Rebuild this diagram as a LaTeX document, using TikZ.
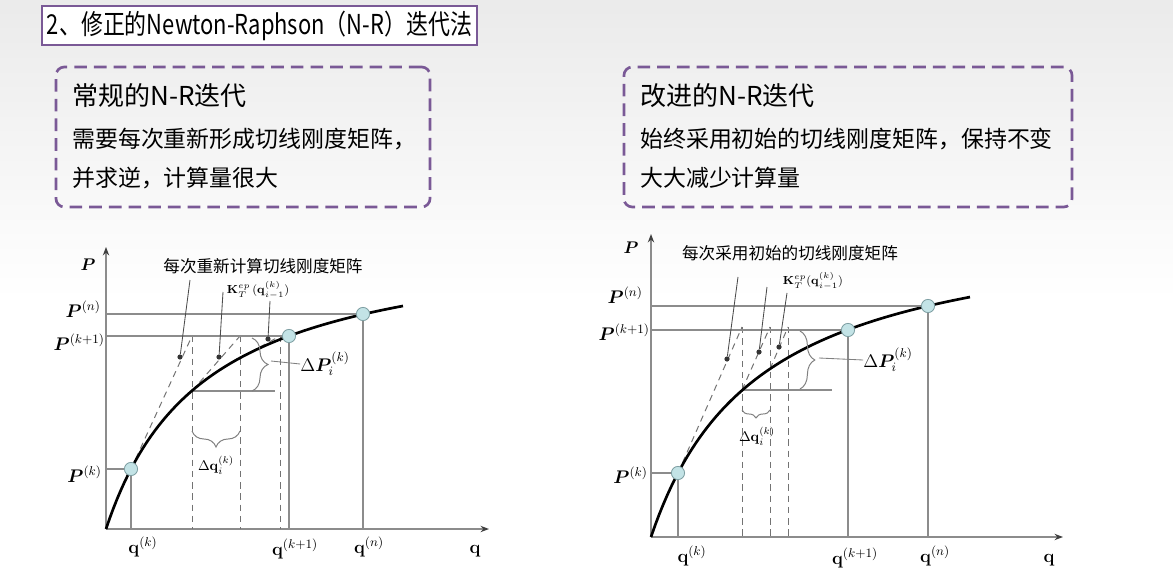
\RequirePackage{fix-cm}
\documentclass[tikz,border=0pt]{standalone}
\usepackage[no-math]{fontspec}
\setmainfont{Noto Sans CJK SC}
\usepackage{amsmath,bm}
\usetikzlibrary{positioning, arrows.meta, decorations.pathreplacing}

\definecolor{slidepurple}{HTML}{7A5996}
\definecolor{ptfill}{HTML}{C3E3E6}
\definecolor{ptline}{HTML}{7E9FA3}
\definecolor{refgray}{HTML}{8C8C8C}

\begin{document}
\begin{tikzpicture}[
		x=0.025cm, y=-0.025cm,
		>=Stealth,
		titlebox/.style={draw=slidepurple, line width=1.6pt, fill=white, minimum width=10.875cm, minimum height=0.975cm, inner sep=0pt},
		titletext/.style={font=\fontsize{19.5}{22}\selectfont, xscale=0.8, inner sep=0pt},
		notebox/.style={draw=slidepurple, line width=1.9pt, dash pattern=on 9pt off 5pt, rounded corners=6pt, minimum height=3.5cm, inner sep=0pt},
		headtext/.style={font=\fontsize{18.5}{22}\selectfont, anchor=west, inner sep=0pt},
		bodytext/.style={font=\fontsize{16.3}{19}\selectfont, anchor=west, inner sep=0pt},
		axisline/.style={draw=refgray, line width=1.1pt, -{Stealth[length=6pt, width=4.5pt, color=black!75]}},
		refline/.style={draw=refgray, line width=0.8pt},
		guide/.style={draw=black!55, line width=0.7pt, dash pattern=on 4.5pt off 3.5pt},
		loadcurve/.style={draw=black, line width=1.9pt},
		ptmark/.style={circle, draw=ptline, fill=ptfill, line width=0.6pt, minimum size=0.33cm, inner sep=0pt},
		pdot/.style={circle, fill=black!80, minimum size=0.13cm, inner sep=0pt},
		leader/.style={draw=black!70, line width=0.6pt},
		curly/.style={draw=gray, line width=0.7pt, decorate, decoration={brace, amplitude=#1}},
		axlabel/.style={font=\fontsize{13}{15}\selectfont, inner sep=0pt},
		notetext/.style={font=\fontsize{11.8}{14}\selectfont, inner sep=0pt},
		klabel/.style={font=\fontsize{8.3}{10}\selectfont, inner sep=0pt},
		dqlabel/.style={font=\fontsize{10}{12}\selectfont, inner sep=0pt}
	]
	
	% --- BACKGROUND ---
	\useasboundingbox (0,0) rectangle (1173,578);
	\shade[top color=gray!16, bottom color=white] (0,0) rectangle (1173,300);
	\fill[white] (0,300) rectangle (1173,578);
	
	% --- TITLE ---
	\node[titlebox] (title) at (259.5,25.5) {};
	\node[titletext] at (title.center) {2、修正的Newton-Raphson（N-R）迭代法};
	
	% --- NOTE BOXES ---
	\node[notebox, minimum width=9.35cm] (regbox) at (243,137) {};
	\node[headtext] (reghead) at (72,96) {常规的N-R迭代};
	\node[bodytext] (regline1) at (72,139) {需要每次重新形成切线刚度矩阵，};
	\node[bodytext] (regline2) at (72,178) {并求逆，计算量很大};
	
	\node[notebox, minimum width=11.2cm] (modbox) at (848,137) {};
	\node[headtext] (modhead) at (640,96) {改进的N-R迭代};
	\node[bodytext] (modline1) at (640,139) {始终采用初始的切线刚度矩阵，保持不变};
	\node[bodytext] (modline2) at (640,178) {大大减少计算量};
	
	% --- LEFT CHART: STANDARD N-R ---
	\coordinate (lo) at (106,529);
	\coordinate (lx) at (489,529);
	\coordinate (ly) at (106,247);
	\coordinate (lk) at (131,469);
	\coordinate (lc1) at (192,391);
	\coordinate (lc2) at (240,358);
	\coordinate (lk1) at (289,336);
	\coordinate (ln) at (363,314);
	\coordinate (lt1) at (192,336);
	\coordinate (lt2) at (240,336);
	\coordinate (lt3) at (280,336);
	\coordinate (lh) at (275,391);
	
	\draw[axisline] (lo) -- (lx);
	\draw[axisline] (lo) -- (ly);
	
	% tangents and iteration steps
	\draw[guide] (lk) -- (lt1);
	\draw[guide] (lt1) -- (lt1 |- lo);
	\draw[guide] (lc1) -- (lt2);
	\draw[guide] (lt2) -- (lt2 |- lo);
	\draw[guide] (lc2) -- (lt3);
	\draw[guide] (lt3) -- (lt3 |- lo);
	\draw[refline] (lc1) -- (lh);
	
	\draw[loadcurve] plot[domain=0:297, samples=80] ({106+\x}, {529-297.3/(98.9+\x)*\x});
	
	\node[ptmark] (LPk) at (lk) {};
	\node[ptmark] (LPk1) at (lk1) {};
	\node[ptmark] (LPn) at (ln) {};
	
	\draw[refline] (lo |- LPn) -- (LPn);
	\draw[refline] (LPn) -- (LPn |- lo);
	\draw[refline] (lo |- LPk1) -- (LPk1);
	\draw[refline] (LPk1) -- (LPk1 |- lo);
	\draw[refline] (lo |- LPk) -- (LPk);
	\draw[refline] (LPk) -- (LPk |- lo);
	
	% tangent stiffness call-outs
	\node[pdot] (ld1) at (180,357) {};
	\node[pdot] (ld2) at (219,357) {};
	\node[pdot] (ld3) at (268,339) {};
	\coordinate (le1) at (190,280);
	\coordinate (le2) at (223,292);
	\coordinate (le3) at (270,301);
	\draw[leader] (ld1) -- (le1);
	\draw[leader] (ld2) -- (le2);
	\draw[leader] (ld3) -- (le3);
	\node[notetext] (lnote) at (263,266) {每次重新计算切线刚度矩阵};
	\node[klabel] (lklab) at (258,290) {$\mathbf{K}_T^{ep}\,(\mathbf{q}_{i-1}^{(k)})$};
	
	% increments
	\draw[curly=0.4cm] (252,338) -- (252,391);
	\coordinate (lcusp) at (271,361);
	\node[axlabel] (ldP) at (325,364) {$\Delta\bm{P}_i^{(k)}$};
	\draw[leader, draw=gray] (lcusp) -- (ldP.west);
	\draw[curly=0.4cm] (240,431) -- (192,431);
	\node[dqlabel] (ldq) at (216,465) {$\Delta\mathbf{q}_i^{(k)}$};
	
	% axis labels
	\node[axlabel, font=\fontsize{12}{14}\selectfont, anchor=base] (lP) at (88,270) {$\bm{P}$};
	\node[axlabel, anchor=base east] (lPn) at (101,317) {$\bm{P}^{(n)}$};
	\node[axlabel, anchor=base east] (lPk1) at (105,350) {$\bm{P}^{(k+1)}$};
	\node[axlabel, anchor=base east] (lPk) at (102,482) {$\bm{P}^{(k)}$};
	\node[axlabel, anchor=base] (lqk) at (143,553) {$\mathbf{q}^{(k)}$};
	\node[axlabel, anchor=base] (lqk1) at (295,555) {$\mathbf{q}^{(k+1)}$};
	\node[axlabel, anchor=base] (lqn) at (369,553) {$\mathbf{q}^{(n)}$};
	\node[axlabel, anchor=base] (lq) at (475,553) {$\mathbf{q}$};
	
	% --- RIGHT CHART: MODIFIED N-R ---
	\coordinate (ro) at (651,537);
	\coordinate (rx) at (1063,537);
	\coordinate (ry) at (651,234);
	\coordinate (rk) at (678,473);
	\coordinate (rc1) at (742,390);
	\coordinate (rc2) at (770,369);
	\coordinate (rk1) at (848,330);
	\coordinate (rn) at (928,306);
	\coordinate (rt1) at (742,327);
	\coordinate (rt2) at (770,327);
	\coordinate (rt3) at (788,327);
	\coordinate (rh) at (832,390);
	
	\draw[axisline] (ro) -- (rx);
	\draw[axisline] (ro) -- (ry);
	
	% parallel tangents (initial stiffness)
	\draw[guide] (rk) -- (rt1);
	\draw[guide] (rt1) -- (rt1 |- ro);
	\draw[guide] (rc1) -- (rt2);
	\draw[guide] (rt2) -- (rt2 |- ro);
	\draw[guide] (rc2) -- (rt3);
	\draw[guide] (rt3) -- (rt3 |- ro);
	\draw[refline] (rc1) -- (rh);
	
	\draw[loadcurve] plot[domain=0:319, samples=80] ({651+\x}, {537-321.7/(108.7+\x)*\x});
	
	\node[ptmark] (RPk) at (rk) {};
	\node[ptmark] (RPk1) at (rk1) {};
	\node[ptmark] (RPn) at (rn) {};
	
	\draw[refline] (ro |- RPn) -- (RPn);
	\draw[refline] (RPn) -- (RPn |- ro);
	\draw[refline] (ro |- RPk1) -- (RPk1);
	\draw[refline] (RPk1) -- (RPk1 |- ro);
	\draw[refline] (ro |- RPk) -- (RPk);
	\draw[refline] (RPk) -- (RPk |- ro);
	
	% tangent stiffness call-outs
	\node[pdot] (rd1) at (727,359) {};
	\node[pdot] (rd2) at (759,352) {};
	\node[pdot] (rd3) at (779,347) {};
	\coordinate (re1) at (738,277);
	\coordinate (re2) at (767,287);
	\coordinate (re3) at (787,293);
	\draw[leader] (rd1) -- (re1);
	\draw[leader] (rd2) -- (re2);
	\draw[leader] (rd3) -- (re3);
	\node[notetext] (rnote) at (790,253) {每次采用初始的切线刚度矩阵};
	\node[klabel] (rklab) at (813,281) {$\mathbf{K}_T^{ep}(\mathbf{q}_{i-1}^{(k)})$};
	
	% increments
	\draw[curly=0.37cm] (800,331) -- (800,389);
	\coordinate (rcusp) at (819,358);
	\node[axlabel] (rdP) at (888,360) {$\Delta\bm{P}_i^{(k)}$};
	\draw[leader, draw=gray] (rcusp) -- (rdP.west);
	\draw[curly=0.2cm] (770,410) -- (742,410);
	\node[dqlabel] (rdq) at (757,436) {$\Delta\mathbf{q}_i^{(k)}$};
	
	% axis labels
	\node[axlabel, font=\fontsize{12}{14}\selectfont, anchor=base] (rP) at (631,253) {$\bm{P}$};
	\node[axlabel, anchor=base east] (rPn) at (643,303) {$\bm{P}^{(n)}$};
	\node[axlabel, anchor=base east] (rPk1) at (650,340) {$\bm{P}^{(k+1)}$};
	\node[axlabel, anchor=base east] (rPk) at (648,483) {$\bm{P}^{(k)}$};
	\node[axlabel, anchor=base] (rqk) at (692,562) {$\mathbf{q}^{(k)}$};
	\node[axlabel, anchor=base] (rqk1) at (855,564) {$\mathbf{q}^{(k+1)}$};
	\node[axlabel, anchor=base] (rqn) at (935,562) {$\mathbf{q}^{(n)}$};
	\node[axlabel, anchor=base] (rq) at (1049,562) {$\mathbf{q}$};
	
\end{tikzpicture}
\end{document}
